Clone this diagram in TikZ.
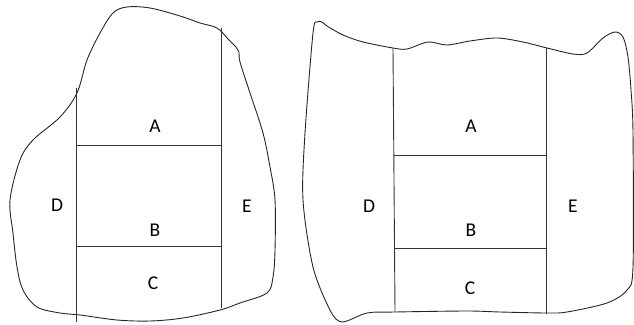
\documentclass[tikz,border=0pt]{standalone}
\usepackage{fontspec}
\setmainfont{Carlito}
\begin{document}
\begin{tikzpicture}[x=1pt,y=-1pt,
  outline/.style={draw=black!85,line width=0.9pt,line join=round},
  divider/.style={draw=black!80,line width=0.9pt},
  lbl/.style={font=\fontsize{19.5}{21}\selectfont,text=black,inner sep=0pt}]
\useasboundingbox (0,0) rectangle (634,324);
% left shape
\draw[outline] plot[smooth cycle,tension=0.55] coordinates {
 (127,7) (150,8) (180,16) (200,23) (217,28) (229,40) (236,47) (239,52) (240,62)
 (250,93) (263,133) (270,167) (275,200) (275,250) (273,277) (267,293)
 (240,303) (220,310) (183,318) (150,321) (117,320) (80,315) (60,313)
 (37,307) (23,290) (17,267) (13,233) (10,200) (20,160) (33,140) (60,117)
 (77,93) (87,60) (100,33) (113,13)};
\draw[divider] (76,88) -- (76,322);
\draw[divider] (221,28) -- (221,308);
\draw[divider] (76,145) -- (221,145);
\draw[divider] (76,246) -- (221,246);
\node[lbl] (A1) at (155,126) {A};
\node[lbl] (B1) at (155,230) {B};
\node[lbl] (C1) at (153,283) {C};
\node[lbl] (D1) at (57,205) {D};
\node[lbl] (E1) at (247,206) {E};
% right shape
\draw[outline] plot[smooth cycle,tension=0.5] coordinates {
 (317,22) (322,22) (327,26) (343,35) (363,42) (393,48) (407,49) (428,42)
 (447,45) (470,41) (497,38) (523,42) (547,48) (573,54) (587,53) (603,38)
 (615,32) (623,37) (628,57) (631,90) (633,133) (633,267) (627,290) (607,303) (567,312)
 (547,313) (500,312) (467,311) (395,312) (367,313) (342,322) (330,310)
 (313,267) (303,200) (305,133) (313,33)};
\draw[divider] (393,48) -- (395,312);
\draw[divider] (546,48) -- (546,314);
\draw[divider] (394,155) -- (546,155);
\draw[divider] (395,248) -- (546,248);
\node[lbl] (A2) at (471,126) {A};
\node[lbl] (B2) at (471,230) {B};
\node[lbl] (C2) at (470,288) {C};
\node[lbl] (D2) at (369,206) {D};
\node[lbl] (E2) at (573,206) {E};
\end{tikzpicture}
\end{document}
